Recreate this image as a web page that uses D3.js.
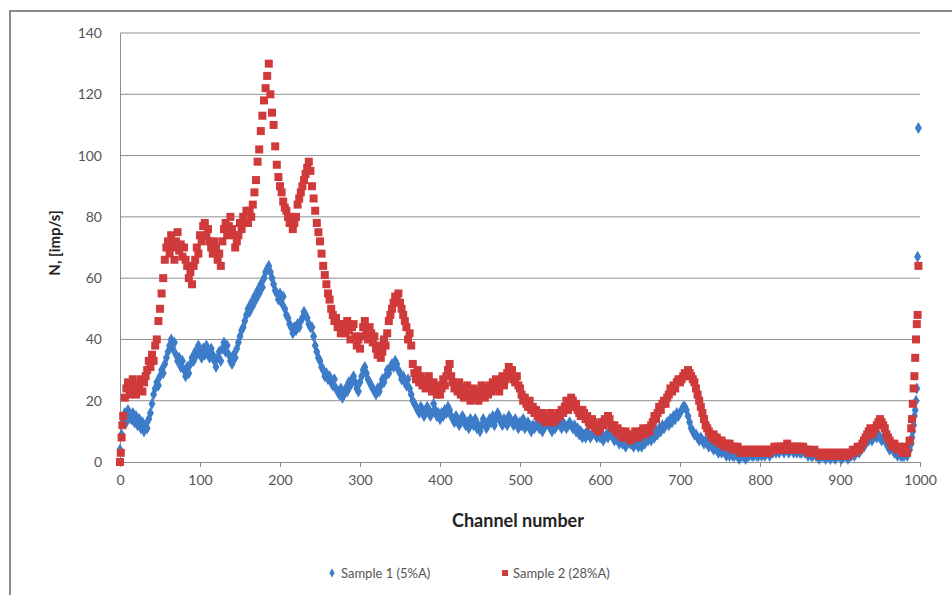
<!DOCTYPE html>
<html lang="en">
	<head>
		<meta charset="utf-8">
		<title>Channel spectrum</title>
		<script src="https://d3js.org/d3.v7.min.js"></script>
		<style type="text/css">
			body { margin: 0; background: #fff; }
			text { font-family: Lato, "Open Sans", sans-serif; }
		</style>
	</head>
	<body>
		<script type="text/javascript">

			const w = 952;
			const h = 595;

			// counts read every 2 channels, channel 0..984 (one row = 20 channels)
			const sample1 = [
				4, 9, 14, 16, 13, 17, 15, 14, 16, 13,
				15, 12, 14, 11, 13, 10, 12, 11, 14, 16,
				19, 22, 24, 26, 25, 28, 30, 29, 32, 34,
				36, 38, 40, 37, 39, 35, 33, 34, 31, 33,
				30, 28, 31, 29, 32, 34, 33, 36, 35, 38,
				36, 34, 37, 35, 38, 36, 34, 37, 35, 33,
				31, 34, 36, 33, 37, 39, 36, 38, 35, 33,
				32, 35, 34, 37, 39, 41, 43, 44, 46, 48,
				50, 49, 52, 51, 54, 53, 56, 55, 58, 57,
				60, 62, 63, 64, 62, 60, 58, 56, 55, 53,
				55, 52, 54, 50, 48, 47, 45, 44, 42, 44,
				43, 45, 44, 46, 47, 49, 48, 47, 45, 44,
				44, 41, 38, 36, 34, 33, 31, 30, 28, 29,
				27, 28, 26, 25, 27, 24, 23, 22, 24, 21,
				22, 24, 23, 26, 25, 27, 28, 26, 24, 23,
				26, 28, 30, 31, 29, 27, 26, 25, 24, 23,
				22, 24, 23, 25, 27, 26, 28, 30, 29, 31,
				32, 31, 33, 32, 30, 29, 27, 28, 26, 25,
				27, 24, 22, 20, 19, 18, 17, 16, 18, 17,
				15, 16, 18, 17, 15, 16, 19, 17, 15, 16,
				14, 16, 15, 17, 16, 18, 17, 15, 14, 13,
				15, 14, 12, 13, 15, 14, 12, 13, 11, 14,
				13, 12, 14, 11, 12, 10, 12, 14, 13, 11,
				12, 14, 13, 15, 12, 14, 16, 15, 13, 12,
				14, 13, 12, 15, 14, 13, 12, 14, 13, 11,
				13, 12, 14, 11, 12, 13, 11, 10, 12, 11,
				12, 13, 11, 12, 10, 11, 12, 13, 12, 11,
				10, 12, 11, 12, 13, 12, 11, 13, 12, 11,
				12, 13, 12, 11, 12, 10, 11, 9, 10, 8,
				9, 8, 10, 9, 8, 9, 10, 9, 8, 9,
				8, 9, 7, 8, 9, 8, 10, 9, 8, 7,
				8, 7, 6, 7, 6, 7, 5, 6, 7, 6,
				6, 5, 7, 6, 5, 6, 5, 7, 6, 7,
				7, 8, 7, 9, 8, 10, 9, 11, 10, 12,
				11, 12, 13, 12, 14, 13, 15, 14, 16, 15,
				16, 17, 18, 18, 17, 15, 13, 11, 10, 9,
				9, 8, 7, 8, 7, 6, 7, 6, 5, 6,
				5, 4, 5, 4, 3, 4, 3, 4, 3, 2,
				3, 2, 3, 2, 2, 3, 2, 1, 2, 2,
				2, 1, 2, 2, 3, 2, 2, 3, 2, 2,
				3, 2, 3, 2, 3, 3, 2, 3, 3, 4,
				3, 4, 3, 4, 4, 3, 4, 4, 3, 4,
				4, 3, 4, 3, 4, 3, 3, 4, 3, 3,
				2, 3, 2, 2, 3, 2, 2, 1, 2, 2,
				2, 1, 2, 2, 1, 2, 2, 1, 2, 2,
				2, 1, 2, 2, 2, 1, 2, 2, 3, 2,
				3, 4, 3, 4, 5, 5, 6, 7, 7, 8,
				7, 8, 9, 8, 9, 8, 7, 8, 7, 6,
				5, 4, 5, 4, 3, 3, 2, 3, 2, 2,
				2, 3, 2
			];

			const sample2 = [
				0, 8, 15, 21, 24, 26, 22, 25, 27, 23,
				22, 25, 24, 27, 23, 26, 28, 30, 33, 31,
				35, 33, 38, 40, 46, 50, 55, 60, 66, 70,
				72, 68, 74, 70, 66, 72, 75, 69, 71, 67,
				70, 66, 64, 60, 62, 58, 64, 66, 70, 68,
				74, 72, 77, 78, 74, 76, 72, 70, 68, 72,
				70, 66, 68, 64, 72, 76, 78, 74, 77, 80,
				76, 74, 70, 72, 74, 78, 76, 80, 78, 82,
				78, 82, 80, 84, 88, 92, 98, 102, 108, 113,
				118, 122, 126, 130, 120, 114, 110, 103, 97, 93,
				90, 88, 85, 83, 82, 80, 78, 80, 76, 78,
				80, 84, 86, 88, 90, 92, 94, 96, 98, 95,
				90, 86, 82, 78, 75, 72, 68, 64, 61, 58,
				55, 53, 50, 48, 46, 47, 44, 45, 42, 44,
				45, 42, 46, 43, 40, 44, 45, 41, 38, 40,
				37, 41, 44, 46, 42, 40, 44, 42, 39, 41,
				37, 35, 38, 34, 36, 40, 38, 42, 46, 48,
				50, 52, 54, 53, 55, 52, 50, 48, 46, 44,
				40, 42, 38, 32, 29, 27, 30, 26, 28, 25,
				27, 24, 26, 28, 25, 23, 26, 24, 22, 25,
				22, 24, 27, 25, 28, 30, 32, 28, 26, 24,
				25, 23, 26, 22, 24, 21, 23, 25, 22, 20,
				22, 24, 21, 23, 20, 22, 25, 23, 21, 24,
				22, 25, 23, 26, 24, 27, 25, 23, 26, 28,
				25, 27, 29, 31, 28, 30, 27, 26, 28, 25,
				24, 22, 20, 21, 19, 18, 20, 17, 18, 16,
				17, 15, 16, 14, 16, 15, 13, 15, 14, 16,
				14, 13, 15, 14, 16, 15, 17, 16, 18, 20,
				17, 19, 21, 20, 18, 19, 17, 16, 15, 17,
				16, 14, 15, 13, 12, 14, 13, 11, 12, 10,
				11, 13, 12, 14, 13, 15, 14, 12, 11, 12,
				10, 11, 9, 10, 8, 9, 10, 8, 9, 7,
				9, 8, 10, 9, 8, 9, 10, 11, 9, 10,
				11, 10, 12, 13, 15, 14, 16, 18, 17, 19,
				20, 19, 21, 22, 24, 23, 25, 24, 26, 27,
				26, 27, 28, 29, 28, 30, 29, 28, 27, 26,
				24, 22, 20, 18, 16, 14, 12, 11, 10, 9,
				8, 9, 7, 8, 7, 6, 7, 6, 5, 6,
				5, 6, 5, 4, 5, 4, 5, 4, 3, 4,
				3, 4, 3, 4, 3, 4, 4, 3, 4, 3,
				4, 3, 4, 4, 3, 4, 3, 4, 4, 5,
				4, 5, 4, 5, 5, 4, 5, 6, 5, 4,
				5, 4, 5, 5, 4, 5, 4, 5, 4, 4,
				3, 4, 3, 3, 4, 3, 3, 2, 3, 3,
				3, 2, 3, 3, 2, 3, 3, 2, 3, 3,
				3, 2, 3, 3, 3, 2, 3, 3, 4, 3,
				4, 5, 4, 5, 6, 7, 8, 9, 10, 11,
				9, 10, 11, 12, 13, 14, 13, 12, 11, 9,
				8, 7, 6, 5, 6, 5, 4, 5, 4, 3,
				4, 5, 3
			];

			// extra points where the counts change fast
			const head2Ch = [1, 3];
			const head2 = [3, 12];

			const tail1Ch = [987, 989, 990, 991, 992, 993, 994, 995, 996, 997, 998];
			const tail1 = [4, 6, 8, 10, 12, 15, 17, 20, 24, 67, 109];
			const tail2Ch = [987, 989, 990, 991, 992, 993, 994, 995, 996, 997, 998];
			const tail2 = [7, 11, 14, 19, 24, 28, 34, 40, 45, 48, 64];

			const yTicks = [0, 20, 40, 60, 80, 100, 120, 140];
			const xTicks = [0, 100, 200, 300, 400, 500, 600, 700, 800, 900, 1000];

			const seriesNames = ["Sample 1 (5%A)", "Sample 2 (28%A)"];
			const blue = "#3c7cc8";
			const red = "#d03a3a";

			const step = (v) => v.map((d, i) => [i * 2, d]);
			const pts = (ch, v) => ch.map((c, i) => [c, v[i]]);
			const data1 = step(sample1).concat(pts(tail1Ch, tail1));
			const data2 = step(sample2).concat(pts(head2Ch, head2), pts(tail2Ch, tail2));

			const xScale = d3.scaleLinear()
								 .domain([0, 1000])
								 .range([120, 920]);

			const yScale = d3.scaleLinear()
								 .domain([0, 140])
								 .range([462, 33]);

			const svg = d3.select("body")
						.append("svg")
						.attr("width", w)
						.attr("height", h);

			// chart frame (right and bottom edges fall outside the picture)
			svg.append("rect")
				.attr("x", 10)
				.attr("y", 11)
				.attr("width", 960)
				.attr("height", 600)
				.attr("fill", "none")
				.attr("stroke", "#8c8c8c")
				.attr("stroke-width", 2);

			// gridlines
			svg.append("g")
				.selectAll("line")
				.data(yTicks.slice(1))
				.enter()
				.append("line")
				.attr("x1", xScale(0))
				.attr("x2", xScale(1000))
				.attr("y1", (d) => yScale(d))
				.attr("y2", (d) => yScale(d))
				.attr("stroke", "#8e8e8e")
				.attr("stroke-width", 1);

			const yAxis = d3.axisLeft(yScale)
							  .tickValues(yTicks)
							  .tickSize(0)
							  .tickPadding(18);

			const xAxis = d3.axisBottom(xScale)
							  .tickValues(xTicks)
							  .tickFormat(d3.format("d"))
							  .tickSize(5)
							  .tickPadding(8);

			const gy = svg.append("g")
				.attr("transform", "translate(" + xScale(0) + ",0)")
				.call(yAxis);

			const gx = svg.append("g")
				.attr("transform", "translate(0," + yScale(0) + ")")
				.call(xAxis);

			[gx, gy].forEach((g) => {
				g.select(".domain").attr("stroke", "#8e8e8e");
				g.selectAll(".tick line").attr("stroke", "#8e8e8e");
				g.selectAll(".tick text")
					.attr("fill", "#555")
					.style("font-size", "14px")
					.style("font-family", "Lato, sans-serif");
			});

			// markers: sample 1 diamonds below, sample 2 squares on top
			svg.append("g")
				.selectAll("path")
				.data(data1)
				.enter()
				.append("path")
				.attr("d", d3.symbol().type(d3.symbolDiamond).size(42))
				.attr("transform", (d) => "translate(" + xScale(d[0]) + "," + yScale(d[1]) + ")")
				.attr("fill", blue);

			svg.append("g")
				.selectAll("rect")
				.data(data2)
				.enter()
				.append("rect")
				.attr("x", (d) => xScale(d[0]) - 4)
				.attr("y", (d) => yScale(d[1]) - 4)
				.attr("width", 8)
				.attr("height", 8)
				.attr("fill", red);

			// axis titles
			svg.append("text")
				.attr("x", 518)
				.attr("y", 527)
				.attr("text-anchor", "middle")
				.attr("font-weight", "bold")
				.attr("font-size", 18)
				.attr("fill", "#222")
				.text("Channel number");

			svg.append("text")
				.attr("transform", "translate(60,243) rotate(-90)")
				.attr("text-anchor", "middle")
				.attr("font-weight", "bold")
				.attr("font-size", 15)
				.attr("fill", "#222")
				.text("N, [imp/s]");

			// legend
			const legend = svg.append("g");

			legend.append("path")
				.attr("d", d3.symbol().type(d3.symbolDiamond).size(24))
				.attr("transform", "translate(332,573)")
				.attr("fill", blue);

			legend.append("text")
				.attr("x", 341)
				.attr("y", 578)
				.attr("font-size", 13)
				.attr("fill", "#555")
				.text(seriesNames[0]);

			legend.append("rect")
				.attr("x", 502)
				.attr("y", 570)
				.attr("width", 6)
				.attr("height", 6)
				.attr("fill", red);

			legend.append("text")
				.attr("x", 513)
				.attr("y", 578)
				.attr("font-size", 13)
				.attr("fill", "#555")
				.text(seriesNames[1]);

		</script>
	</body>
</html>
